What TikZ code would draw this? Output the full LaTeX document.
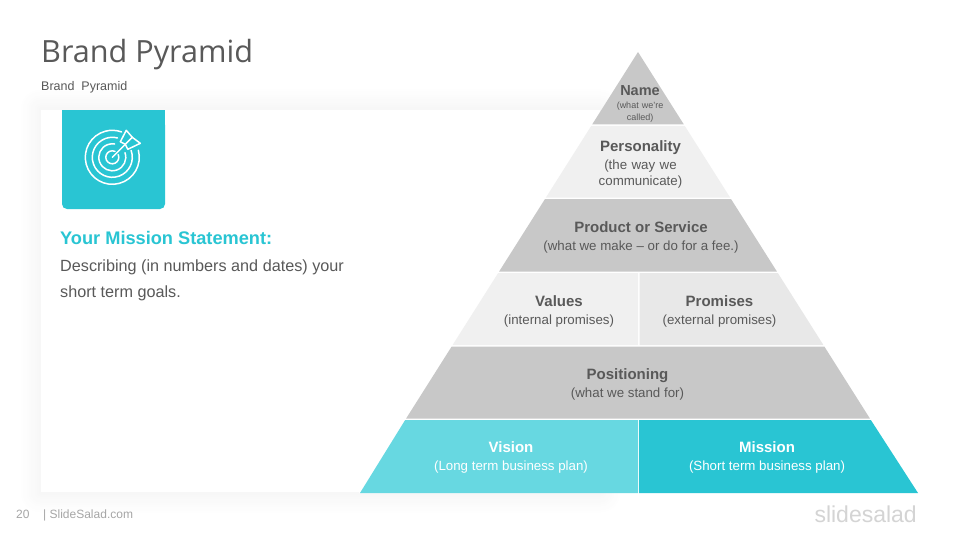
\documentclass[tikz,border=0pt]{standalone}
\usepackage{fontspec}
\setmainfont{Liberation Sans}
\newfontfamily\titlefont{Open Sans}
\definecolor{teal}{HTML}{29C5D3}
\definecolor{lteal}{HTML}{67D8E1}
\definecolor{midgray}{HTML}{C8C8C8}
\definecolor{palegray}{HTML}{F0F0F0}
\definecolor{softgray}{HTML}{E8E8E8}
\definecolor{txt}{HTML}{595959}
\tikzset{
  lbl/.style={align=center,text=txt,inner sep=0pt},
  wlbl/.style={align=center,text=white,inner sep=0pt},
  hd/.style={font=\fontsize{15}{18}\selectfont\bfseries},
  sb/.style={font=\fontsize{13.3}{16}\selectfont},
  ring/.style={draw=white,line width=1.5pt,line cap=round},
}
\newcommand{\band}[5]{%
  \fill[#5] ({638+(#3)*(#1-52)*0.6327},#1) -- ({638+(#4)*(#1-52)*0.6327},#1)
     -- ({638+(#4)*(#2-52)*0.6327},#2) -- ({638+(#3)*(#2-52)*0.6327},#2) -- cycle;}
\begin{document}
\begin{tikzpicture}[x=1pt,y=-1pt]
\useasboundingbox (0,0) rectangle (960,540);
\fill[white] (0,0) rectangle (960,540);
% card shadow
\foreach \d/\o in {20/0.3,18/0.6,16/0.9,14/1.2,12/1.5,10/1.8,8/2.1,6/2.4,4/2.7,2/3.0}{
  \fill[black!\o,rounded corners=\d pt] ({41-\d},{110-\d}) rectangle ({600+\d},{492+\d});
}
\fill[white] (41,110) rectangle (600,492);
% title
\node[anchor=base west,inner sep=0pt,text=txt,font=\titlefont\fontsize{30.6}{36}\selectfont] (title) at (41,63) {Brand Pyramid};
\node[anchor=base west,inner sep=0pt,text=txt,font=\fontsize{12.5}{15}\selectfont] (subtitle) at (41,91) {Brand\ \ Pyramid};
% icon tile
\fill[teal,rounded corners=5pt] (62,120) rectangle (165,209);
\fill[teal] (62,110) rectangle (165,130);
\begin{scope}[shift={(112.3,157.3)},y=1pt]
  \draw[ring] (15:27) arc[start angle=15,end angle=-290,radius=27pt];
  \draw[ring] (20:20) arc[start angle=20,end angle=-285,radius=20pt];
  \draw[ring] (20:13.5) arc[start angle=20,end angle=-280,radius=13.5pt];
  \draw[ring] (25:6.5) arc[start angle=25,end angle=-295,radius=6.5pt];
  \draw[ring] (0,0) -- (20,20);
  \draw[ring,fill=teal,line join=round] (13,13) -- (8,15.5) -- (14,27) -- (20,20) -- cycle;
  \draw[ring,fill=teal,line join=round] (13,13) -- (15.5,8) -- (28,14) -- (20,20) -- cycle;
\end{scope}
% mission text
\node[anchor=base west,inner sep=0pt,text=teal,font=\fontsize{18.2}{21}\selectfont\bfseries] (mh) at (60,244) {Your Mission Statement:};
\node[anchor=base west,inner sep=0pt,text=txt,font=\fontsize{16.2}{18}\selectfont] (m1) at (60,271) {Describing (in numbers and dates) your};
\node[anchor=base west,inner sep=0pt,text=txt,font=\fontsize{16.2}{18}\selectfont] (m2) at (60,297) {short term goals.};
% pyramid
\band{52}{493}{-1}{1}{white}
\band{52}{124.5}{-1}{1}{midgray}
\band{126}{197.5}{-1}{1}{palegray}
\band{199}{271.5}{-1}{1}{midgray}
\fill[palegray] ({638-(273-52)*0.6327},273) -- (638,273) -- (638,345) -- ({638-(345-52)*0.6327},345) -- cycle;
\fill[softgray] (639.5,273) -- ({638+(273-52)*0.6327},273) -- ({638+(345-52)*0.6327},345) -- (639.5,345) -- cycle;
\band{346.5}{418.5}{-1}{1}{midgray}
\fill[lteal] ({638-(420-52)*0.6327},420) -- (638,420) -- (638,493) -- (360,493) -- cycle;
\fill[teal] (639,420) -- ({638+(420-52)*0.6327},420) -- (918,493) -- (639,493) -- cycle;
% labels
\node[lbl,anchor=base,font=\fontsize{14.5}{16}\selectfont\bfseries] (name) at (640,96) {Name};
\node[lbl,anchor=base,font=\fontsize{9}{11.5}\selectfont,text width=60pt] (namesub) at (640,109) {(what we're\\called)};
\node[lbl,anchor=base,hd] (pers) at (640.5,151.5) {Personality};
\node[lbl,anchor=base,sb,text width=100pt] (perssub) at (640.5,170) {(the way we\\communicate)};
\node[lbl,anchor=base,hd] (prod) at (641,232) {Product or Service};
\node[lbl,anchor=base,sb] (prodsub) at (641,250) {(what we make -- or do for a fee.)};
\node[lbl,anchor=base,hd] (val) at (559,306) {Values};
\node[lbl,anchor=base,sb] (valsub) at (559,324) {(internal promises)};
\node[lbl,anchor=base,hd] (prom) at (719.5,306) {Promises};
\node[lbl,anchor=base,sb] (promsub) at (719.5,324) {(external promises)};
\node[lbl,anchor=base,hd] (pos) at (627.5,379) {Positioning};
\node[lbl,anchor=base,sb] (possub) at (627.5,397) {(what we stand for)};
\node[wlbl,anchor=base,hd] (vis) at (511,452) {Vision};
\node[wlbl,anchor=base,sb] (vissub) at (511,470) {(Long term business plan)};
\node[wlbl,anchor=base,hd] (mis) at (767,452) {Mission};
\node[wlbl,anchor=base,sb] (missub) at (767,470) {(Short term business plan)};
% footer
\node[anchor=base west,inner sep=0pt,text=black!35,font=\fontsize{12}{14}\selectfont] (pg) at (16,518) {20};
\node[anchor=base west,inner sep=0pt,text=black!35,font=\fontsize{12}{14}\selectfont] (site) at (43,518) {| SlideSalad.com};
\node[anchor=base east,inner sep=0pt,text=black!17,font=\fontsize{23}{28}\selectfont] (logo) at (917,522) {slidesalad};
\end{tikzpicture}
\end{document}
